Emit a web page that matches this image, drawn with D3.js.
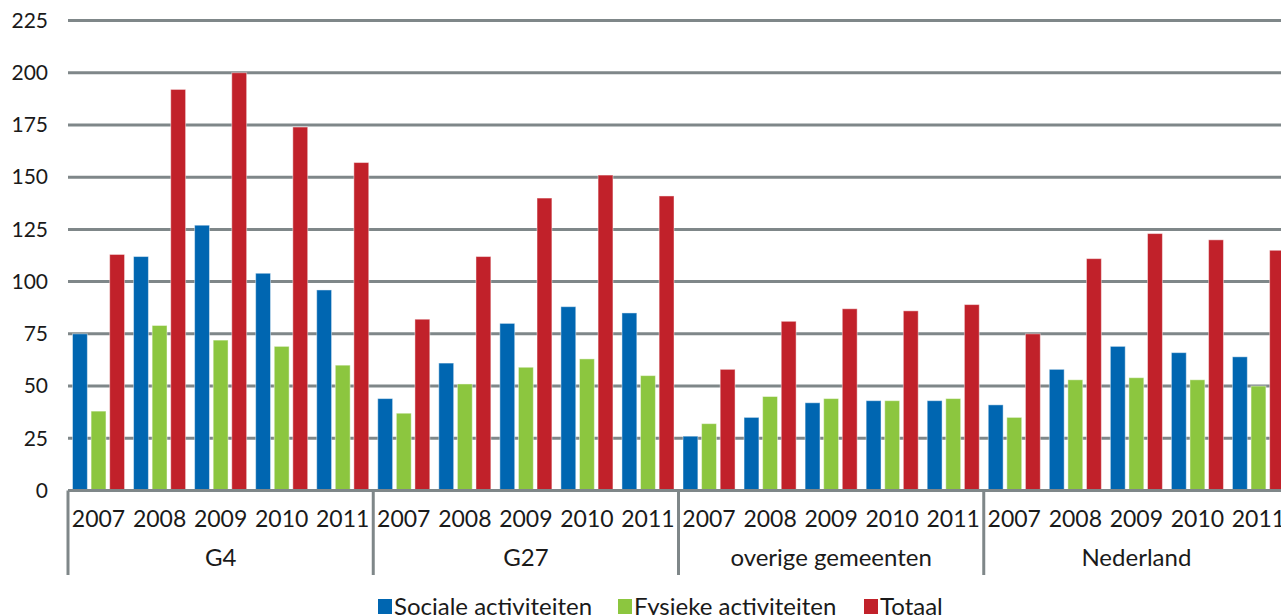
<!DOCTYPE html>
<html>
<head>
<meta charset="utf-8">
<script src="https://cdn.jsdelivr.net/npm/d3@7"></script>
<style>
    body { margin: 0; background: #fff; }
    svg { display: block; }
    text { font-family: Lato, "Open Sans", sans-serif; fill: #1a1a1a; }
</style>
</head>
<body>
<svg id="chart"></svg>
<script>
var groups = ["G4", "G27", "overige gemeenten", "Nederland"];
var years = ["2007", "2008", "2009", "2010", "2011"];
var seriesNames = ["Sociale activiteiten", "Fysieke activiteiten", "Totaal"];

// values per group, years 2007-2011
var sociale = [75, 112, 127, 104, 96, 44, 61, 80, 88, 85, 26, 35, 42, 43, 43, 41, 58, 69, 66, 64];
var fysieke = [38, 79, 72, 69, 60, 37, 51, 59, 63, 55, 32, 45, 44, 43, 44, 35, 53, 54, 53, 50];
var totaal = [113, 192, 200, 174, 157, 82, 112, 140, 151, 141, 58, 81, 87, 86, 89, 75, 111, 123, 120, 115];

var yTicks = [0, 25, 50, 75, 100, 125, 150, 175, 200, 225];
var colors = ["#0066b1", "#8cc63f", "#c1212a"];

var width = 1281, height = 615;
var plotLeft = 68, plotRight = 1289;
var plotTop = 20.5, plotBottom = 490.5;

var rows = [];
groups.forEach(function (g, gi) {
    years.forEach(function (yr, yi) {
        var i = gi * years.length + yi;
        rows.push({ key: g + "|" + yr, group: g, year: yr, values: [sociale[i], fysieke[i], totaal[i]] });
    });
});

var svg = d3.select("#chart")
    .attr("width", width)
    .attr("height", height);

var x0 = d3.scaleBand()
    .domain(rows.map(function (d) { return d.key; }))
    .range([plotLeft, plotRight])
    .padding(0);

var x1 = d3.scaleBand()
    .domain(seriesNames)
    .range([4.5, x0.bandwidth() - 4.5])
    .paddingInner(0.2);

var y = d3.scaleLinear()
    .domain([0, 225])
    .range([plotBottom, plotTop]);

// gridlines ---------------------------------------------------------------
svg.append("g")
    .selectAll("line")
    .data(yTicks.filter(function (t) { return t > 0; }))
    .enter().append("line")
    .attr("x1", plotLeft)
    .attr("x2", width)
    .attr("y1", function (d) { return y(d); })
    .attr("y2", function (d) { return y(d); })
    .attr("stroke", "#7f8789")
    .attr("stroke-width", 3);

// y tick labels
var yAxis = svg.append("g")
    .attr("transform", "translate(" + (plotLeft - 20) + ",0)")
    .call(d3.axisLeft(y).tickValues(yTicks).tickSize(0).tickPadding(0));
yAxis.select(".domain").remove();
yAxis.selectAll("text")
    .style("font-size", "21px")
    .style("font-family", "Lato, sans-serif")
    .attr("fill", "#1a1a1a");

// bars --------------------------------------------------------------------
var cat = svg.append("g")
    .selectAll("g")
    .data(rows)
    .enter().append("g")
    .attr("transform", function (d) { return "translate(" + x0(d.key) + ",0)"; });

cat.selectAll("rect")
    .data(function (d) { return d.values.map(function (v, i) { return { name: seriesNames[i], value: v, idx: i }; }); })
    .enter().append("rect")
    .attr("x", function (d) { return x1(d.name); })
    .attr("width", x1.bandwidth())
    .attr("y", function (d) { return y(d.value); })
    .attr("height", function (d) { return y(0) - y(d.value); })
    .attr("fill", function (d) { return colors[d.idx]; })
    .attr("stroke", "#fff")
    .attr("stroke-opacity", 0.45)
    .attr("stroke-width", 1);

// category axis -------------------------------------------------------------
svg.append("line")
    .attr("x1", plotLeft)
    .attr("x2", width)
    .attr("y1", y(0))
    .attr("y2", y(0))
    .attr("stroke", "#7f8789")
    .attr("stroke-width", 3);

var bounds = groups.map(function (g) { return x0(g + "|" + years[0]); }).concat([plotRight]);
svg.append("g")
    .selectAll("line")
    .data(bounds)
    .enter().append("line")
    .attr("x1", function (d) { return d; })
    .attr("x2", function (d) { return d; })
    .attr("y1", y(0))
    .attr("y2", 575)
    .attr("stroke", "#7f8789")
    .attr("stroke-width", 3);

svg.append("g")
    .selectAll("text")
    .data(rows)
    .enter().append("text")
    .attr("x", function (d) { return x0(d.key) + x0.bandwidth() / 2; })
    .attr("y", 527)
    .attr("text-anchor", "middle")
    .style("font-size", "23px")
    .text(function (d) { return d.year; });

svg.append("g")
    .selectAll("text")
    .data(groups)
    .enter().append("text")
    .attr("x", function (d) {
        return x0(d + "|" + years[0]) + x0.bandwidth() * years.length / 2;
    })
    .attr("y", 566)
    .attr("text-anchor", "middle")
    .style("font-size", "24px")
    .text(function (d) { return d; });

// legend ------------------------------------------------------------------
var legendX = [378, 618, 864];
var legend = svg.append("g")
    .selectAll("g")
    .data(seriesNames)
    .enter().append("g")
    .attr("transform", function (d, i) { return "translate(" + legendX[i] + ",0)"; });

legend.append("rect")
    .attr("x", 0)
    .attr("y", 599)
    .attr("width", 14)
    .attr("height", 15)
    .attr("fill", function (d, i) { return colors[i]; });

legend.append("text")
    .attr("x", 16)
    .attr("y", 615)
    .style("font-size", "24px")
    .text(function (d) { return d; });
</script>
</body>
</html>
